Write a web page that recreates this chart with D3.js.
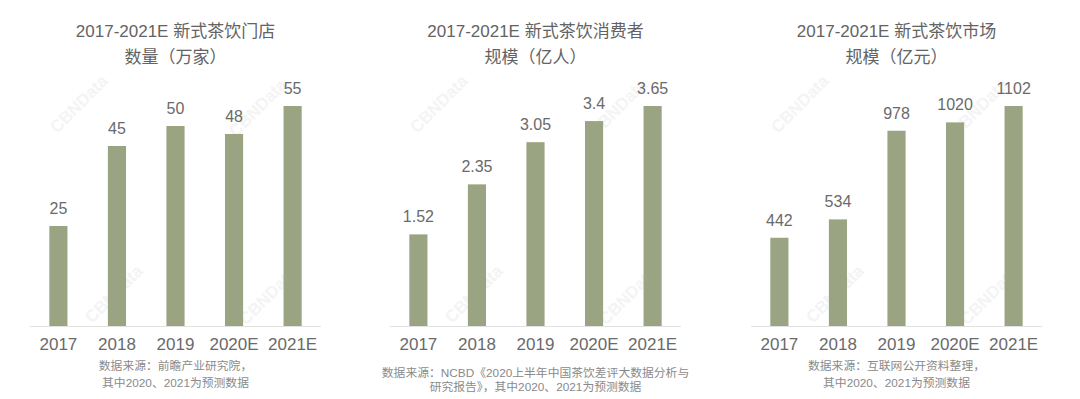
<!DOCTYPE html>
<html>
<head>
<meta charset="utf-8">
<script src="https://cdn.jsdelivr.net/npm/d3@7"></script>
<style>
  html, body { margin: 0; padding: 0; background: #fff; }
  svg { display: block; font-family: "Liberation Sans", "Noto Sans CJK SC", sans-serif; }
  .title { fill: #636363; font-size: 17px; font-weight: normal; text-anchor: middle; }
  .value-label { fill: #6a6a6a; font-size: 16px; text-anchor: middle; }
  .x-label { fill: #6a6a6a; font-size: 17px; text-anchor: middle; }
  .source { fill: #8a8a8a; font-size: 11.8px; text-anchor: middle; }
  .watermark { fill: #f4f4f4; font-size: 17px; font-weight: bold; text-anchor: middle; }
</style>
</head>
<body>
<div id="chart"></div>
<script>
///////////////////////////////////////////////////////////////////////////
//////////////////////////////// The data /////////////////////////////////
///////////////////////////////////////////////////////////////////////////

var years = ["2017", "2018", "2019", "2020E", "2021E"];

var storeCount = [25, 45, 50, 48, 55];          //万家
var consumerCount = [1.52, 2.35, 3.05, 3.4, 3.65]; //亿人
var marketSize = [442, 534, 978, 1020, 1102];   //亿元

var titleLines = [
	["2017-2021E 新式茶饮门店", "数量（万家）"],
	["2017-2021E 新式茶饮消费者", "规模（亿人）"],
	["2017-2021E 新式茶饮市场", "规模（亿元）"]
];

var sourceLines = [
	["数据来源：前瞻产业研究院，", "其中2020、2021为预测数据"],
	["数据来源：NCBD《2020上半年中国茶饮差评大数据分析与", "研究报告》，其中2020、2021为预测数据"],
	["数据来源：互联网公开资料整理，", "其中2020、2021为预测数据"]
];

var seriesList = [storeCount, consumerCount, marketSize];

///////////////////////////////////////////////////////////////////////////
//////////////////////////// Set up the SVG ///////////////////////////////
///////////////////////////////////////////////////////////////////////////

var width = 1080,
	height = 399;

var barColor = "#9ba482",
	baseline = 326,   //y of the axis line
	topY = 106;       //y where the max value ends

//Per panel layout
var panelX = [0, 360, 721];
var sourceY = [[370, 387], [377, 391], [370, 387]];

var svg = d3.select("#chart")
	.append("svg")
	.attr("width", width)
	.attr("height", height);

//Same band scale inside every panel
var x = d3.scaleBand()
	.domain(years)
	.range([30, 321])
	.paddingInner(0.69)
	.paddingOuter(0.33);

var centerX = (x.range()[0] + x.range()[1]) / 2;

///////////////////////////////////////////////////////////////////////////
//////////////////////////// Draw the panels //////////////////////////////
///////////////////////////////////////////////////////////////////////////

seriesList.forEach(function(values, p) {

	var g = svg.append("g")
		.attr("transform", "translate(" + panelX[p] + ",0)");

	var y = d3.scaleLinear()
		.domain([0, d3.max(values)])
		.range([baseline, topY]);

	var data = years.map(function(yr, i) { return {year: yr, value: values[i]}; });

	//Faint watermarks
	[[83, 108], [262, 112], [118, 298], [272, 300]].forEach(function(pos) {
		g.append("text")
			.attr("class", "watermark")
			.attr("transform", "translate(" + pos[0] + "," + pos[1] + ") rotate(-45)")
			.text("CBNData");
	});

	//Title
	g.selectAll(".title")
		.data(titleLines[p])
		.enter().append("text")
		.attr("class", "title")
		.attr("x", centerX)
		.attr("y", function(d, i) { return 37 + i * 26; })
		.text(function(d) { return d; });

	//Axis line
	g.append("line")
		.attr("x1", x.range()[0])
		.attr("x2", x.range()[1])
		.attr("y1", baseline + 0.5)
		.attr("y2", baseline + 0.5)
		.style("stroke", "#e2e2e2")
		.style("stroke-width", 1);

	//Bars
	g.selectAll(".bar")
		.data(data)
		.enter().append("rect")
		.attr("class", "bar")
		.attr("x", function(d) { return x(d.year); })
		.attr("width", x.bandwidth())
		.attr("y", function(d) { return y(d.value); })
		.attr("height", function(d) { return baseline - y(d.value); })
		.style("fill", barColor);

	//Value labels
	g.selectAll(".value-label")
		.data(data)
		.enter().append("text")
		.attr("class", "value-label")
		.attr("x", function(d) { return x(d.year) + x.bandwidth() / 2; })
		.attr("y", function(d) { return y(d.value) - 12; })
		.text(function(d) { return d.value; });

	//Category labels
	g.selectAll(".x-label")
		.data(data)
		.enter().append("text")
		.attr("class", "x-label")
		.attr("x", function(d) { return x(d.year) + x.bandwidth() / 2; })
		.attr("y", baseline + 24)
		.text(function(d) { return d.year; });

	//Source note
	g.selectAll(".source")
		.data(sourceLines[p])
		.enter().append("text")
		.attr("class", "source")
		.attr("x", centerX)
		.attr("y", function(d, i) { return sourceY[p][i]; })
		.text(function(d) { return d; });

});
</script>
</body>
</html>
